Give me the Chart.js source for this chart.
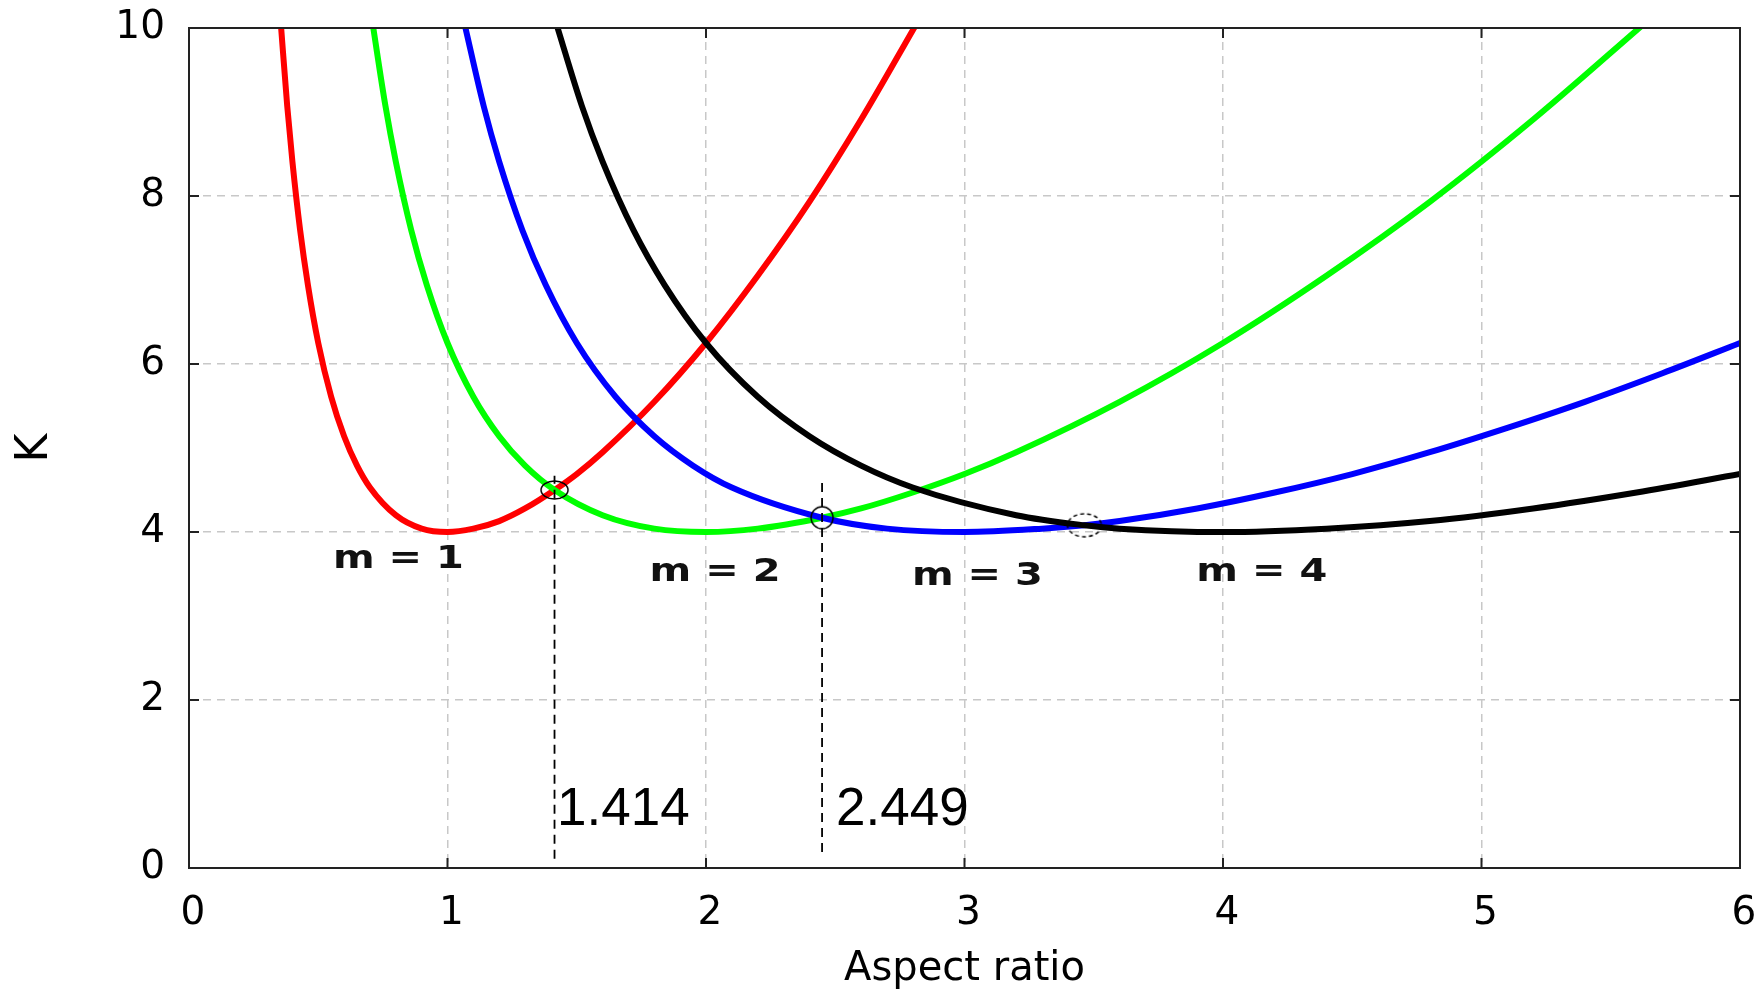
<!DOCTYPE html>
<html>
<head>
<meta charset="utf-8">
<title>K vs aspect ratio</title>
<script src="https://cdn.jsdelivr.net/npm/chart.js@4.4.1/dist/chart.umd.min.js"></script>
<style>
  html, body { margin: 0; padding: 0; background: #fff; }
  #wrap { width: 1762px; height: 991px; }
</style>
</head>
<body>
<div id="wrap"><canvas id="kChart"></canvas></div>
<script>
// values
var ratioM1 = [0.355, 0.38, 0.4, 0.43, 0.46, 0.5, 0.55, 0.6, 0.65, 0.7, 0.8, 0.9, 1.0, 1.1, 1.2, 1.3, 1.414, 1.5, 1.6, 1.8, 2.0, 2.2, 2.4, 2.6, 2.82];
var kM1 = [10.06, 9.07, 8.41, 7.59, 6.94, 6.25, 5.61, 5.14, 4.79, 4.53, 4.20, 4.04, 4.00, 4.04, 4.13, 4.28, 4.50, 4.69, 4.95, 5.55, 6.25, 7.05, 7.93, 8.91, 10.08];

var ratioM2 = [0.71, 0.76, 0.8, 0.86, 0.92, 1.0, 1.1, 1.2, 1.3, 1.414, 1.6, 1.8, 2.0, 2.2, 2.449, 2.6, 2.8, 3.0, 3.2, 3.6, 4.0, 4.4, 4.8, 5.2, 5.64];
var kM2 = [10.06, 9.07, 8.41, 7.59, 6.94, 6.25, 5.61, 5.14, 4.79, 4.50, 4.20, 4.04, 4.00, 4.04, 4.17, 4.28, 4.47, 4.69, 4.95, 5.55, 6.25, 7.05, 7.93, 8.91, 10.08];

var ratioM3 = [1.065, 1.14, 1.2, 1.29, 1.38, 1.5, 1.65, 1.8, 1.95, 2.1, 2.449, 2.7, 3.0, 3.3, 3.464, 3.6, 3.9, 4.2, 4.5, 4.8, 5.1, 5.4, 5.7, 6.0];
var kM3 = [10.06, 9.07, 8.41, 7.59, 6.94, 6.25, 5.61, 5.14, 4.79, 4.53, 4.17, 4.04, 4.00, 4.04, 4.08, 4.13, 4.28, 4.47, 4.69, 4.95, 5.24, 5.55, 5.89, 6.25];

var ratioM4 = [1.42, 1.52, 1.6, 1.72, 1.84, 2.0, 2.2, 2.4, 2.6, 2.8, 3.2, 3.464, 3.6, 4.0, 4.4, 4.8, 5.2, 5.6, 6.0];
var kM4 = [10.06, 9.07, 8.41, 7.59, 6.94, 6.25, 5.61, 5.14, 4.79, 4.53, 4.20, 4.08, 4.04, 4.00, 4.04, 4.13, 4.28, 4.47, 4.69];

// crossing points and the two marked ratios
var crossRatio = [1.414, 2.449, 3.464];
var crossK = [4.50, 4.17, 4.08];
var markRatio = [1.414, 2.449];
var markLow = [0.11, 0.19];
var markHigh = [4.67, 4.59];

var xTicks = [0, 1, 2, 3, 4, 5, 6];
var yTicks = [0, 2, 4, 6, 8, 10];

// text placed in the plot (data coords)
var curveLabels = [
    { text: "m = 1", x: 0.81, y: 3.67 },
    { text: "m = 2", x: 2.035, y: 3.52 },
    { text: "m = 3", x: 3.05, y: 3.47 },
    { text: "m = 4", x: 4.15, y: 3.52 }
];
var ratioLabels = [
    { text: "1.414", x: 1.424, y: 0.51 },
    { text: "2.449", x: 2.503, y: 0.51 }
];

function toPoints(xs, ys) {
    return xs.map(function (v, i) { return { x: v, y: ys[i] }; });
}

function ellipse(w, h, dashed) {
    let c = document.createElement("canvas");
    c.width = w + 4;
    c.height = h + 4;
    let g = c.getContext("2d");
    g.strokeStyle = "#000";
    g.lineWidth = 1.5;
    if (dashed) g.setLineDash([4, 3]);
    g.beginPath();
    g.ellipse(c.width / 2, c.height / 2, w / 2, h / 2, 0, 0, Math.PI * 2);
    g.stroke();
    return c;
}

function curve(label, xs, ys, color) {
    return {
        label: label,
        data: toPoints(xs, ys),
        showLine: true,
        borderColor: color,
        backgroundColor: color,
        borderWidth: 6,
        pointRadius: 0,
        cubicInterpolationMode: "monotone",
        order: 5
    };
}

function marker(i) {
    return {
        label: "mark " + markRatio[i],
        data: [{ x: markRatio[i], y: markLow[i] }, { x: markRatio[i], y: markHigh[i] }],
        showLine: true,
        borderColor: "#000",
        borderWidth: 1.8,
        borderDash: [9, 6],
        pointRadius: 0,
        order: 2
    };
}

const frameAndText = {
    id: "frameAndText",
    afterDraw(chart) {
        const { ctx, chartArea: a, scales: { x, y } } = chart;
        ctx.save();
        ctx.strokeStyle = "#222";
        ctx.lineWidth = 2;
        ctx.strokeRect(a.left, a.top, a.right - a.left, a.bottom - a.top);
        ctx.beginPath();
        xTicks.forEach(function (t) {
            let px = x.getPixelForValue(t);
            ctx.moveTo(px, a.bottom); ctx.lineTo(px, a.bottom - 10);
            ctx.moveTo(px, a.top); ctx.lineTo(px, a.top + 10);
        });
        yTicks.forEach(function (t) {
            let py = y.getPixelForValue(t);
            ctx.moveTo(a.left, py); ctx.lineTo(a.left + 10, py);
            ctx.moveTo(a.right, py); ctx.lineTo(a.right - 10, py);
        });
        ctx.stroke();

        // curve names, drawn a little wide like the original
        ctx.fillStyle = "#111";
        ctx.font = "bold 32px 'DejaVu Sans'";
        ctx.textAlign = "center";
        ctx.textBaseline = "middle";
        curveLabels.forEach(function (l) {
            ctx.save();
            ctx.translate(x.getPixelForValue(l.x), y.getPixelForValue(l.y));
            ctx.scale(1.25, 1);
            ctx.fillText(l.text, 0, 0);
            ctx.restore();
        });

        ctx.fillStyle = "#000";
        ctx.font = "53px 'Liberation Sans'";
        ctx.textAlign = "left";
        ctx.textBaseline = "alphabetic";
        ratioLabels.forEach(function (l) {
            ctx.fillText(l.text, x.getPixelForValue(l.x), y.getPixelForValue(l.y));
        });
        ctx.restore();
    }
};

let ctx = document.getElementById("kChart").getContext("2d");
let kChart = new Chart(ctx, {
    type: "scatter",
    data: {
        datasets: [
            {
                label: "crossings",
                data: toPoints(crossRatio, crossK),
                pointStyle: [ellipse(27, 18, false), ellipse(22, 22, false), ellipse(34, 23, true)],
                pointRadius: 12,
                showLine: false,
                order: 1
            },
            marker(0),
            marker(1),
            curve("m = 4", ratioM4, kM4, "#000000"),
            curve("m = 3", ratioM3, kM3, "#0000ff"),
            curve("m = 2", ratioM2, kM2, "#00ff00"),
            curve("m = 1", ratioM1, kM1, "#ff0000")
        ]
    },
    options: {
        responsive: true,
        maintainAspectRatio: false,
        animation: false,
        layout: { padding: { top: 28, right: 22, left: 0, bottom: 0 } },
        plugins: {
            legend: { display: false },
            tooltip: { enabled: false }
        },
        scales: {
            x: {
                type: "linear",
                min: 0,
                max: 6,
                afterBuildTicks: function (scale) {
                    scale.ticks = xTicks.map(function (v) { return { value: v }; });
                },
                afterFit: function (scale) { scale.height = 123; },
                grid: { color: "#c8c8c8", lineWidth: 1.5, drawTicks: true, tickLength: 22, tickColor: "rgba(0,0,0,0)" },
                border: { display: false, dash: [8, 6] },
                ticks: {
                    color: "#000",
                    font: { family: "DejaVu Sans", size: 39 },
                    padding: 0,
                    labelOffset: 4,
                    maxRotation: 0
                },
                title: {
                    display: true,
                    text: "Aspect ratio",
                    color: "#000",
                    font: { family: "DejaVu Sans", size: 40, lineHeight: 1.05 },
                    padding: { top: 0, bottom: 0 }
                }
            },
            y: {
                type: "linear",
                min: 0,
                max: 10,
                afterBuildTicks: function (scale) {
                    scale.ticks = yTicks.map(function (v) { return { value: v }; });
                },
                afterFit: function (scale) { scale.width = 189; },
                grid: { color: "#c8c8c8", lineWidth: 1.5, drawTicks: true, tickLength: 24, tickColor: "rgba(0,0,0,0)" },
                border: { display: false, dash: [8, 6] },
                ticks: {
                    color: "#000",
                    font: { family: "DejaVu Sans", size: 39 },
                    padding: 0
                },
                title: {
                    display: true,
                    text: "K",
                    color: "#000",
                    font: { family: "DejaVu Sans", size: 44 },
                    padding: { top: 9, bottom: 0 }
                }
            }
        }
    },
    plugins: [frameAndText]
});
</script>
</body>
</html>
